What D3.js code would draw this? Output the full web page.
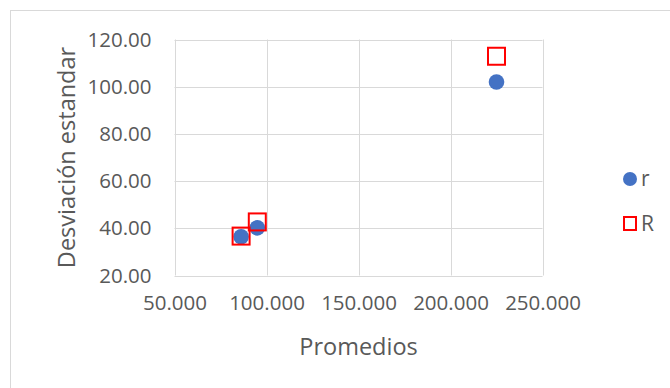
<!DOCTYPE html>
<html>
<head>
<meta charset="utf-8">
<script src="https://cdn.jsdelivr.net/npm/d3@7"></script>
<style>
  html, body { margin: 0; padding: 0; background: #fff; }
  svg { display: block; }
  text { font-family: "Open Sans", Lato, sans-serif; fill: #595959; }
</style>
</head>
<body>
<svg id="chart" width="670" height="388"></svg>
<script>
// Promedios (x) and desviación estándar (y) for each series
const seriesNames = ["r", "R"];
const rX = [86.2, 95.0, 225.0];
const rY = [36.4, 40.2, 102.0];
const bigRX = [86.2, 95.0, 225.0];
const bigRY = [36.7, 42.7, 112.9];
const xTicks = [50, 100, 150, 200, 250];
const yTicks = [20, 40, 60, 80, 100, 120];

const svg = d3.select("#chart");
const W = 670, H = 388;
const plot = { left: 174.5, right: 542.5, top: 39.5, bottom: 275.5 };
const FONT = "'Open Sans', Lato, sans-serif";

// chart frame
svg.append("rect")
  .attr("x", 10.5).attr("y", 10.5)
  .attr("width", W).attr("height", H)
  .attr("fill", "#fff").attr("stroke", "#d9d9d9").attr("stroke-width", 1);

const x = d3.scaleLinear().domain([50, 250]).range([plot.left, plot.right]);
const y = d3.scaleLinear().domain([20, 120]).range([plot.bottom, plot.top]);

// gridlines
const grid = svg.append("g").attr("stroke", "#d9d9d9").attr("stroke-width", 1);
grid.selectAll("line.h").data(yTicks).join("line")
  .attr("x1", plot.left).attr("x2", plot.right)
  .attr("y1", d => Math.round(y(d)) + 0.5).attr("y2", d => Math.round(y(d)) + 0.5);
grid.selectAll("line.v").data(xTicks).join("line")
  .attr("y1", plot.top).attr("y2", plot.bottom)
  .attr("x1", d => Math.round(x(d)) + 0.5).attr("x2", d => Math.round(x(d)) + 0.5);

// axes (labels only, grid supplies the lines)
const xAxis = svg.append("g").attr("transform", `translate(0,${plot.bottom})`)
  .call(d3.axisBottom(x).tickValues(xTicks).tickFormat(d3.format(".3f")).tickSize(0).tickPadding(20));
const yAxis = svg.append("g").attr("transform", `translate(${plot.left},0)`)
  .call(d3.axisLeft(y).tickValues(yTicks).tickFormat(d3.format(".2f")).tickSize(0).tickPadding(23));
[xAxis, yAxis].forEach(a => {
  a.select(".domain").remove();
  a.selectAll("text").attr("font-size", 20.5).attr("fill", "#595959")
    .attr("font-family", FONT);
});

// axis titles
svg.append("text")
  .attr("x", (plot.left + plot.right) / 2).attr("y", 346)
  .attr("text-anchor", "middle").attr("dominant-baseline", "central").attr("font-size", 23.5)
  .text("Promedios");
svg.append("text")
  .attr("transform", `translate(66,${(plot.top + plot.bottom) / 2}) rotate(-90)`)
  .attr("text-anchor", "middle").attr("dominant-baseline", "central").attr("font-size", 23.5)
  .text("Desviación estandar");

// series r: filled circles
svg.append("g").selectAll("circle").data(d3.zip(rX, rY)).join("circle")
  .attr("cx", d => x(d[0])).attr("cy", d => y(d[1])).attr("r", 7.8)
  .attr("fill", "#4472c4");

// series R: hollow red squares
const sq = 17;
svg.append("g").selectAll("rect").data(d3.zip(bigRX, bigRY)).join("rect")
  .attr("x", d => x(d[0]) - sq / 2).attr("y", d => y(d[1]) - sq / 2)
  .attr("width", sq).attr("height", sq)
  .attr("fill", "none").attr("stroke", "#ff0000").attr("stroke-width", 2);

// legend
const legend = svg.append("g");
legend.append("circle").attr("cx", 630).attr("cy", 179).attr("r", 7).attr("fill", "#4472c4");
legend.append("rect").attr("x", 624).attr("y", 217).attr("width", 12).attr("height", 13)
  .attr("fill", "none").attr("stroke", "#ff0000").attr("stroke-width", 2);
legend.selectAll("text").data(seriesNames).join("text")
  .attr("x", 641).attr("y", (d, i) => 178 + i * 45)
  .attr("dominant-baseline", "central").attr("font-size", 21)
  .text(d => d);
</script>
</body>
</html>
